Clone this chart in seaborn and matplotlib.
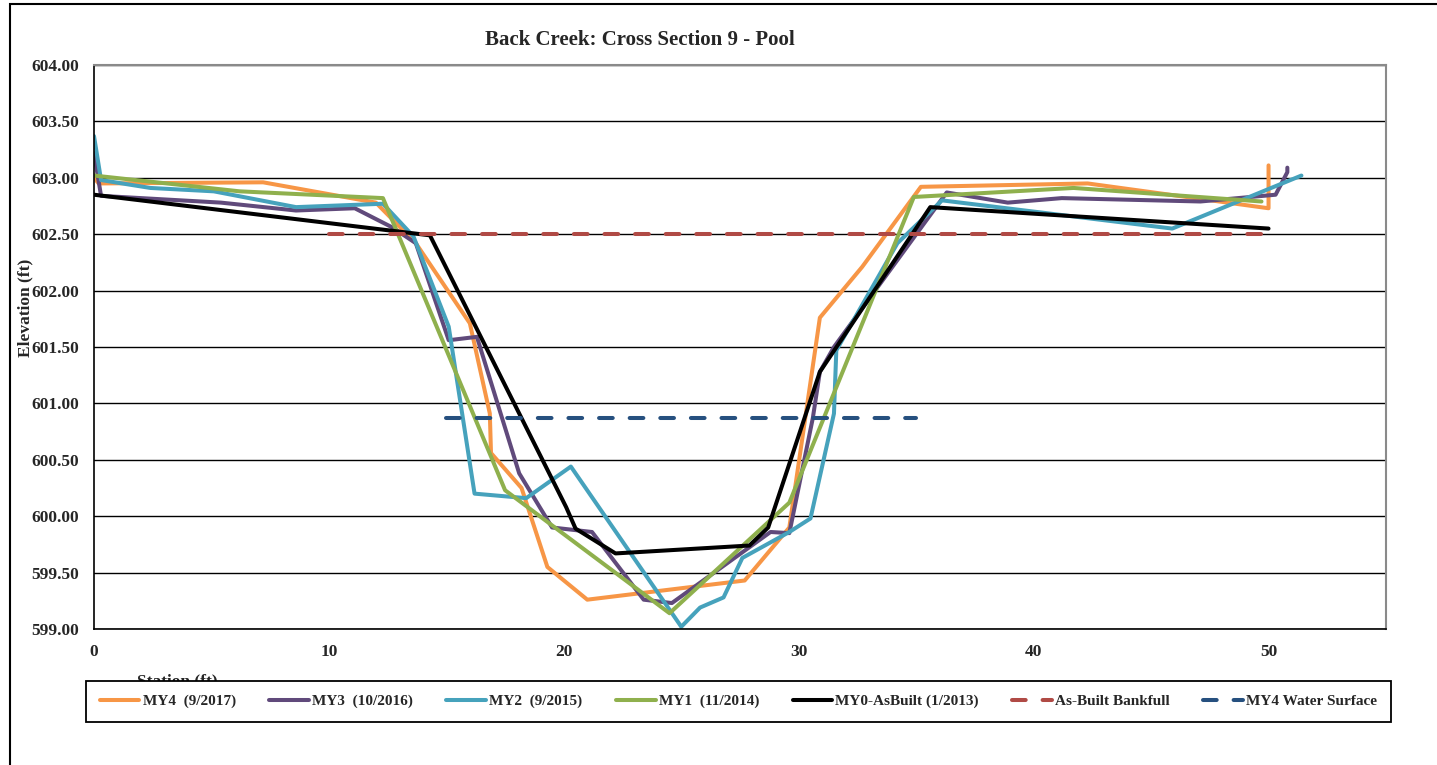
import numpy as np
import pandas as pd
import matplotlib
matplotlib.use("Agg")
import matplotlib.pyplot as plt
from matplotlib.patches import Rectangle
import seaborn as sns

# --- survey data ---
my4_x = [0, 0.2, 7.2, 12.0, 13.7, 16.0, 16.85, 16.9, 18.2, 19.3, 21.0, 27.7, 29.6, 30.9, 32.7, 35.2, 42.3, 50.0, 50.0]
my4_y = [603.0, 602.95, 602.96, 602.78, 602.42, 601.71, 600.91, 600.56, 600.25, 599.55, 599.26, 599.43, 599.90, 601.76, 602.21, 602.92, 602.95, 602.73, 603.11]

my3_x = [0, 0.3, 5.4, 8.6, 11.1, 12.7, 13.7, 15.1, 16.3, 18.1, 19.5, 21.2, 23.4, 24.6, 28.8, 29.6, 30.6, 30.9, 31.5, 36.3, 38.9, 41.2, 47.1, 50.3, 50.8, 50.8]
my3_y = [603.22, 602.84, 602.78, 602.71, 602.73, 602.56, 602.42, 601.56, 601.59, 600.38, 599.90, 599.86, 599.26, 599.23, 599.86, 599.85, 600.87, 601.28, 601.50, 602.87, 602.78, 602.82, 602.79, 602.85, 603.05, 603.09]

my2_x = [0, 0.3, 2.4, 5.1, 8.6, 12.3, 13.6, 15.1, 16.2, 18.4, 20.3, 25.0, 25.8, 26.8, 27.6, 29.6, 30.5, 31.5, 31.6, 34.2, 36.1, 45.9, 51.4]
my2_y = [603.37, 602.98, 602.91, 602.88, 602.74, 602.77, 602.48, 601.68, 600.20, 600.16, 600.44, 599.02, 599.19, 599.28, 599.63, 599.86, 599.98, 600.91, 601.47, 602.42, 602.80, 602.55, 603.02]

my1_x = [0, 6.2, 12.3, 17.5, 24.5, 29.6, 34.9, 41.7, 49.7]
my1_y = [603.02, 602.88, 602.82, 600.23, 599.14, 600.12, 602.83, 602.91, 602.79]

my0_x = [0, 14.3, 20.1, 20.5, 22.2, 27.9, 28.7, 30.9, 35.6, 50.0]
my0_y = [602.85, 602.49, 600.08, 599.89, 599.67, 599.74, 599.90, 601.28, 602.74, 602.55]

bankfull_x = [10, 50]
bankfull_y = [602.5, 602.5]

water_x = [15, 35]
water_y = [600.87, 600.87]

labels = ["MY4  (9/2017)", "MY3  (10/2016)", "MY2  (9/2015)", "MY1  (11/2014)",
          "MY0-AsBuilt (1/2013)", "As-Built Bankfull", "MY4 Water Surface"]
colors = ["#F79646", "#604A7B", "#46A2BC", "#8FB04D", "#000000", "#B04A45", "#26507F"]
dashed = [False, False, False, False, False, True, True]

series = [(my4_x, my4_y), (my3_x, my3_y), (my2_x, my2_y), (my1_x, my1_y),
          (my0_x, my0_y), (bankfull_x, bankfull_y), (water_x, water_y)]

sns.set_theme(style="white")
plt.rcParams["font.family"] = ["Liberation Serif", "DejaVu Serif"]
plt.rcParams["font.weight"] = "bold"

fig = plt.figure(figsize=(14.37, 7.65), dpi=100)
ax = fig.add_axes([94 / 1437, 1 - 629 / 765, 1292 / 1437, 564 / 765])

for (xs, ys), lab, col, dsh in zip(series, labels, colors, dashed):
    df = pd.DataFrame({"station": xs, "elev": ys})
    sns.lineplot(data=df, x="station", y="elev", sort=False, estimator=None,
                 color=col, lw=2.9, label=lab, ax=ax)
    line = ax.get_lines()[-1]
    if dsh:
        line.set_linestyle((0, (3.4, 4.2)))
        line.set_dash_capstyle("round")

ax.set_xlim(0, 55)
ax.set_ylim(599, 604)
ax.set_xticks([0, 10, 20, 30, 40, 50])
ax.set_yticks(np.arange(599, 604.01, 0.5))
ax.yaxis.set_major_formatter(matplotlib.ticker.FormatStrFormatter("%.2f"))
ax.grid(axis="y", color="black", lw=1.0)
ax.set_axisbelow(True)
ax.set_xlabel("")
ax.set_ylabel("")
ax.get_legend().remove()

for s in ["top", "right"]:
    ax.spines[s].set_color("#8a8a8a")
    ax.spines[s].set_linewidth(1.5)
for s in ["left", "bottom"]:
    ax.spines[s].set_color("black")
    ax.spines[s].set_linewidth(1.2)

ax.tick_params(axis="x", direction="out", length=5, width=1, color="black",
               labelsize=12.5, pad=6)
ax.tick_params(axis="y", direction="inout", length=9, width=1, color="black",
               labelsize=12.5, pad=6)
for t in ax.get_xticklabels() + ax.get_yticklabels():
    t.set_fontweight("bold")

fig.text(640 / 1437, 1 - 40 / 765, "Back Creek: Cross Section 9 - Pool",
         ha="center", va="center", fontsize=15, fontweight="bold")
fig.text(25 / 1437, 1 - 308 / 765, "Elevation (ft)", rotation=90,
         ha="center", va="center", fontsize=12.5, fontweight="bold", zorder=6)
fig.text(177 / 1437, 1 - 681 / 765, "Station (ft)", ha="center", va="center",
         fontsize=12.5, fontweight="bold", zorder=1)

handles = ax.get_lines()[:7]
leg = fig.legend(handles, labels, loc="lower left",
                 bbox_to_anchor=(86 / 1437, 1 - 722 / 765, 1305 / 1437, 49 / 765),
                 mode="expand", ncol=7, frameon=True, fancybox=False,
                 handlelength=2.6, handletextpad=0.2,
                 borderaxespad=0, borderpad=0.9, columnspacing=0.6,
                 prop={"weight": "bold", "size": 11})
leg.get_frame().set_edgecolor("black")
leg.get_frame().set_linewidth(1.3)
leg.get_frame().set_facecolor("white")
leg.get_frame().set_alpha(1)
leg.set_zorder(10)

fig.patches.append(Rectangle((10 / 1437, -0.1), 1.2, 1.1 - 4 / 765,
                             transform=fig.transFigure, fill=False,
                             edgecolor="black", lw=1.5, zorder=0))

fig.savefig("out.png", dpi=100)
